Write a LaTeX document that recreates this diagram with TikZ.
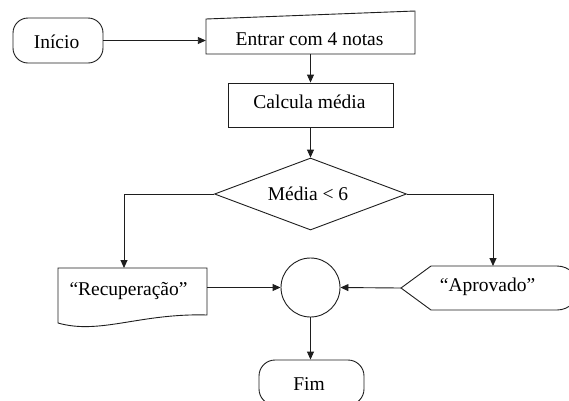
\documentclass[tikz,border=0pt]{standalone}
\usepackage{fontspec}
\setmainfont{Liberation Serif}
\usetikzlibrary{arrows.meta,shapes.geometric,shapes.misc}
\definecolor{ink}{RGB}{30,30,30}
\tikzset{
  line/.style={draw=ink, line width=0.9pt},
  arr/.style={line, -{Triangle[length=8pt,width=7pt]}},
  lbl/.style={font=\fontsize{19.5}{22}\selectfont, inner sep=0pt, anchor=base, text=black},
  anchorbox/.style={rectangle, draw=none, inner sep=0pt},
}
\begin{document}
\begin{tikzpicture}[x=1pt,y=-1pt]
\clip (0,0) rectangle (569,400);
\fill[white] (0,0) rectangle (569,400);

% Inicio
\node[line, rounded corners=15pt, minimum width=90pt, minimum height=45pt, inner sep=0pt] (inicio) at (58,40.5) {};
\node[lbl] (inicioT) at (56.5,48.3) {Início};

% Entrar com 4 notas (manual input)
\draw[line] (206,19) -- (415,11) -- (415,54) -- (206,54) -- cycle;
\node[anchorbox, minimum width=209pt, minimum height=32pt] (entrar) at (310.5,38) {};
\node[lbl] (entrarT) at (309.5,45) {Entrar com 4 notas};

% Calcula media
\node[line, rectangle, minimum width=165pt, minimum height=44pt, inner sep=0pt] (calc) at (310.5,105) {};
\node[lbl] (calcT) at (309.5,108.3) {Calcula média};

% Decision
\node[line, diamond, minimum width=192pt, minimum height=72pt, inner sep=0pt] (dec) at (310.5,194) {};
\node[lbl] (decT) at (308,200) {Média < 6};

% Recuperacao (document)
\draw[line] (58,268) -- (207,268) -- (207,315)
  .. controls (140,313) and (100,335) .. (58,323) -- cycle;
\node[anchorbox, minimum width=149pt, minimum height=47pt] (rec) at (132.5,291.5) {};
\node[lbl] (recT) at (128.5,295) {“Recuperação”};
\coordinate (recin) at (124,268);

% Aprovado (display)
\draw[line] (401,288) -- (431,266) -- (557,266)
  arc[start angle=-90, end angle=90, x radius=22, y radius=22]
  -- (431,310) -- cycle;
\node[anchorbox, minimum width=178pt, minimum height=44pt] (apr) at (490,288) {};
\node[lbl] (aprT) at (487.5,291.7) {“Aprovado”};
\coordinate (aprin) at (493,266);

% Junction
\node[line, circle, minimum size=59pt, inner sep=0pt] (junc) at (310.5,287.5) {};

% Fim
\node[line, rounded corners=16pt, minimum width=105pt, minimum height=45pt, inner sep=0pt] (fim) at (311.5,382.5) {};
\node[lbl] (fimT) at (309,390) {Fim};

% Connectors
\draw[arr] (inicio.east) -- (inicio.east -| entrar.west);
\draw[arr] (entrar.south) -- (calc.north);
\draw[arr] (calc.south) -- (dec.north);
\draw[arr] (dec.west) -| (recin);
\draw[arr] (dec.east) -| (aprin);
\draw[arr] (junc.west -| rec.east) -- (junc.west);
\draw[arr] (apr.west) -- (junc.east);
\draw[arr] (junc.south) -- (junc.south |- fim.north);
\end{tikzpicture}
\end{document}
